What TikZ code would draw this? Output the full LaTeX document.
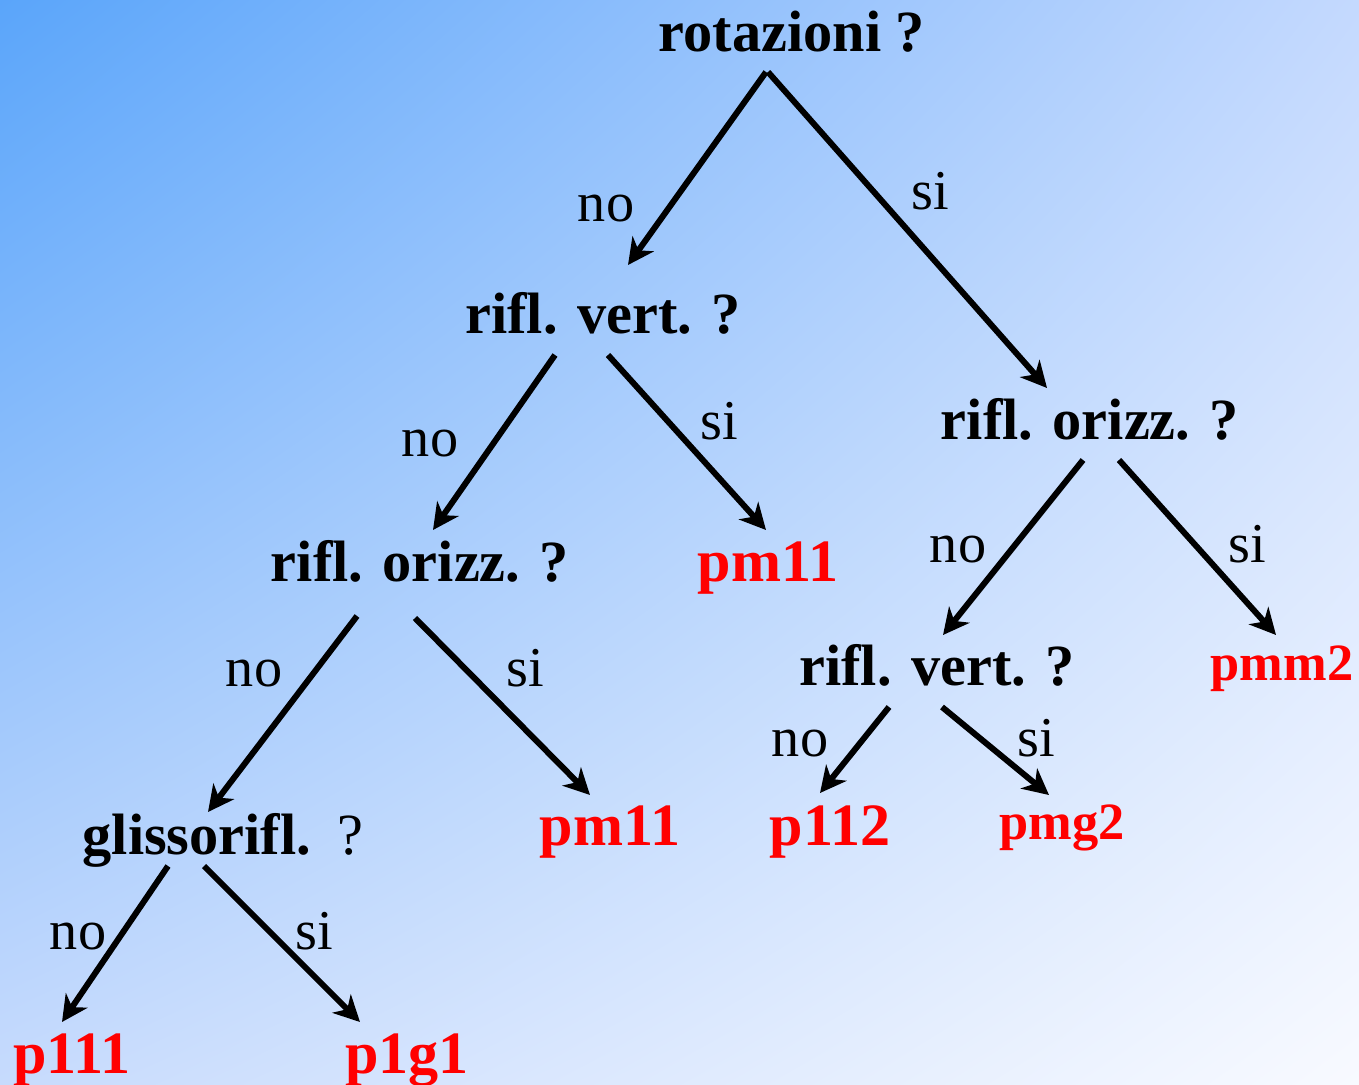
\documentclass[tikz,border=0pt]{standalone}
\usepackage{fontspec}
\setmainfont{Liberation Serif}
\usetikzlibrary{arrows.meta,shadings}
\definecolor{bgul}{RGB}{90,165,250}
\definecolor{bgur}{RGB}{196,217,254}
\definecolor{bgll}{RGB}{199,219,253}
\definecolor{bglr}{RGB}{248,250,255}

\begin{document}
\begin{tikzpicture}[x=0.1mm,y=-0.1mm,
   q/.style={anchor=base,inner sep=0pt,font=\fontsize{16.6}{19}\selectfont\bfseries},
   res/.style={anchor=base,inner sep=0pt,text=red,font=\fontsize{17.1}{19}\selectfont\bfseries},
   ressm/.style={res,font=\fontsize{14.9}{17}\selectfont\bfseries},
   lab/.style={anchor=base,inner sep=0pt,font=\fontsize{16}{19}\selectfont},
   arr/.style={line width=0.6mm,-{Stealth[length=2.6mm,width=2.6mm,inset=0.8mm]}}]
   % background
   \shade[upper left=bgul,upper right=bgur,lower left=bgll,lower right=bglr]
      (0,0) rectangle (1359,1085);
   \useasboundingbox (0,0) rectangle (1359,1085);
   % questions
   \node[q] (rot) at (792,52) {rotazioni ?};
   \node[q] (rv1) at (603,334) {rifl. vert. ?};
   \node[q] (ro1) at (1090,439) {rifl. orizz. ?};
   \node[q] (ro2) at (420,581) {rifl. orizz. ?};
   \node[q] (rv2) at (937,685) {rifl. vert. ?};
   \node[q] (gl) at (223,854) {glissorifl.\hspace{0.45em}\mdseries ?};
   % groups
   \node[res] (pma) at (768,581) {pm11};
   \node[ressm] (pmm) at (1282,680) {pmm2};
   \node[res] (pmb) at (610,845) {pm11};
   \node[res] (p112) at (830,845) {p112};
   \node[ressm] (pmg) at (1062,839) {pmg2};
   \node[res] (p111) at (72,1073) {p111};
   \node[res] (p1g1) at (407,1073) {p1g1};
   % arrows
   \draw[arr] ([shift={(-26,20)}]rot.base) -- ([shift={(25,-69)}]rv1.base);
   \draw[arr] ([shift={(-24,20)}]rot.base) -- ([shift={(-43,-51)}]ro1.base);
   \draw[arr] ([shift={(-48,21)}]rv1.base) -- ([shift={(13,-51)}]ro2.base);
   \draw[arr] ([shift={(5,21)}]rv1.base) -- ([shift={(-2,-51)}]pma.base);
   \draw[arr] ([shift={(-7,21)}]ro1.base) -- ([shift={(6,-50)}]rv2.base);
   \draw[arr] ([shift={(29,21)}]ro1.base) -- ([shift={(-6,-45)}]pmm.base);
   \draw[arr] ([shift={(-63,35)}]ro2.base) -- ([shift={(-15,-42)}]gl.base);
   \draw[arr] ([shift={(-5,37)}]ro2.base) -- ([shift={(-20,-50)}]pmb.base);
   \draw[arr] ([shift={(-48,22)}]rv2.base) -- ([shift={(-10,-52)}]p112.base);
   \draw[arr] ([shift={(5,22)}]rv2.base) -- ([shift={(-13,-44)}]pmg.base);
   \draw[arr] ([shift={(-55,12)}]gl.base) -- ([shift={(-10,-51)}]p111.base);
   \draw[arr] ([shift={(-19,12)}]gl.base) -- ([shift={(-47,-51)}]p1g1.base);
   % no / si
   \node[lab] (no1) at (606,222) {no};
   \node[lab] (si1) at (930,210) {si};
   \node[lab] (no2) at (430,456) {no};
   \node[lab] (si2) at (719,439) {si};
   \node[lab] (no3) at (958,562) {no};
   \node[lab] (si3) at (1247,562) {si};
   \node[lab] (no4) at (254,686) {no};
   \node[lab] (si4) at (525,686) {si};
   \node[lab] (no5) at (800,756) {no};
   \node[lab] (si5) at (1036,756) {si};
   \node[lab] (no6) at (78,949) {no};
   \node[lab] (si6) at (314,949) {si};
\end{tikzpicture}
\end{document}
